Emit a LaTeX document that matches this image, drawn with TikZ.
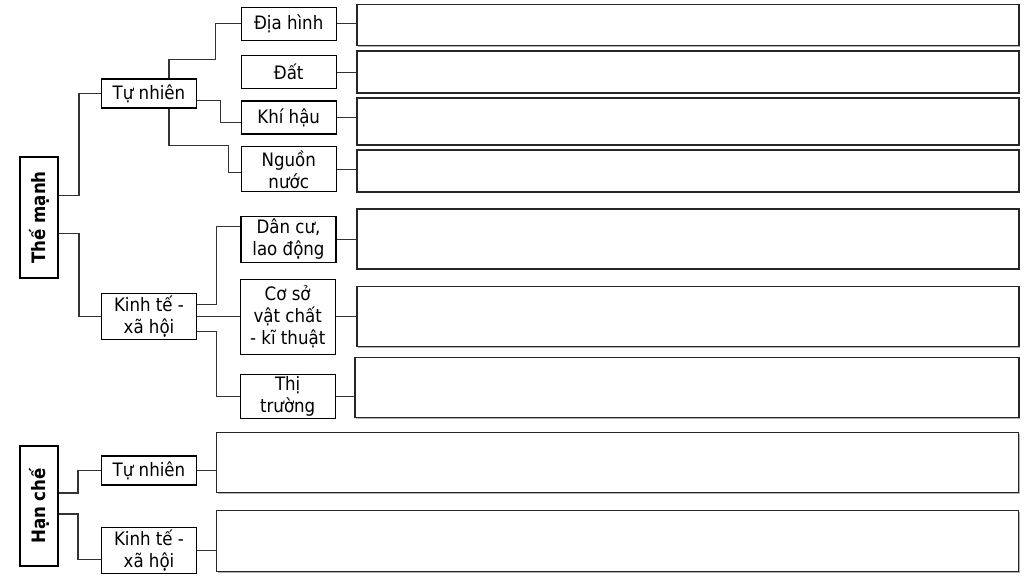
\documentclass[tikz,border=0pt]{standalone}
\usepackage{fontspec}
\setmainfont{DejaVu Sans Condensed}
\usepackage{graphicx}
\usepackage{tikz}
\usetikzlibrary{positioning, shadows}
\tikzstyle{mainbox} = [rectangle, draw=black, line width=1.8pt, inner sep=0pt, minimum width=38pt, font={\fontsize{18.5pt}{20pt}\selectfont\bfseries}]
\tikzstyle{subbox} = [rectangle, draw=black, line width=1.1pt, inner sep=0pt, minimum width=95pt, align=center]
\tikzstyle{leafbox} = [rectangle, draw=black, line width=1.1pt, inner sep=0pt, minimum width=95pt, align=center]
\tikzstyle{answerbox} = [rectangle, draw=black!85, line width=1.3pt, inner sep=0pt, drop shadow={shadow xshift=1.3pt, shadow yshift=-1.3pt, fill=black!30, opacity=1}, fill=white]
\tikzstyle{link} = [draw=black!80, line width=1.2pt]
\tikzset{
  font={\fontsize{18.5pt}{22pt}\selectfont}}

\begin{document}
\begin{tikzpicture}[x=1pt, y=-1pt]
    \useasboundingbox (0,0) rectangle (1032,580);

    \node (theman) [mainbox, minimum height=121pt] at (39,217.5) {\rotatebox{90}{Thế mạnh}};
    \node (hanche) [mainbox, minimum height=120pt] at (39,506) {\rotatebox{90}{Hạn chế}};

    \node (tn1) [subbox, minimum height=29pt] at (149,93.5) {Tự nhiên};
    \node (kt1) [subbox, minimum height=46pt] at (149,316.3) {Kinh tế -\\xã hội};
    \node (tn2) [subbox, minimum height=29pt] at (149,470.5) {Tự nhiên};
    \node (kt2) [subbox, minimum height=46pt] at (149,550.8) {Kinh tế -\\xã hội};

    \node (diahinh) [leafbox, minimum height=33pt] at (288.7,23.7) {Địa hình};
    \node (dat) [leafbox, minimum height=33pt] at (288.7,72.3) {Đất};
    \node (khihau) [leafbox, minimum height=33pt] at (288.7,117.5) {Khí hậu};
    \node (nguonnuoc) [leafbox, minimum height=45pt] at (288.7,169.3) {Nguồn\\nước};
    \node (dancu) [leafbox, minimum height=46pt] at (288.5,239.5) {Dân cư,\\lao động};
    \node (coso) [leafbox, minimum height=75pt] at (287.7,316.8) {Cơ sở\\vật chất\\- kĩ thuật};
    \node (thitruong) [leafbox, minimum height=44pt] at (287.7,396.2) {Thị\\trường};

    \node (a1) [answerbox, minimum width=662pt, minimum height=41pt] at (688,25.3) {};
    \node (a2) [answerbox, minimum width=662pt, minimum height=42pt] at (688,72) {};
    \node (a3) [answerbox, minimum width=662pt, minimum height=47pt] at (688,121.5) {};
    \node (a4) [answerbox, minimum width=662pt, minimum height=42pt] at (688,171) {};
    \node (a5) [answerbox, minimum width=662pt, minimum height=60pt] at (688,239) {};
    \node (a6) [answerbox, minimum width=662pt, minimum height=60pt] at (688,316.7) {};
    \node (a7) [answerbox, minimum width=664pt, minimum height=60pt] at (687,387.3) {};
    \node (a8) [answerbox, minimum width=802pt, minimum height=60pt] at (617.8,462.7) {};
    \node (a9) [answerbox, minimum width=802pt, minimum height=61pt] at (617.8,541.2) {};

    % left tree
    \draw [link] ([yshift=22pt]theman.east) -| ([xshift=-22pt]tn1.west) -- (tn1.west);
    \draw [link] ([yshift=-16pt]theman.east) -| ([xshift=-22pt]kt1.west) -- (kt1.west);
    \draw [link] ([yshift=13pt]hanche.east) -| ([xshift=-23pt]tn2.west) -- (tn2.west);
    \draw [link] ([yshift=-8pt]hanche.east) -| ([xshift=-23pt,yshift=-8.5pt]kt2.west) -- ([yshift=-8.5pt]kt2.west);

    \draw [link] ([xshift=20pt]tn1.north) -- ++(0,-19) -| ([xshift=-25pt]diahinh.west) -- (diahinh.west);
    \draw [link] ([yshift=-7pt]tn1.east) -| ([xshift=-20pt,yshift=-5pt]khihau.west) -- ([yshift=-5pt]khihau.west);
    \draw [link] ([xshift=20pt]tn1.south) -- ++(0,37) -| ([xshift=-12pt,yshift=-3pt]nguonnuoc.west) -- ([yshift=-3pt]nguonnuoc.west);

    \draw [link] ([yshift=12pt]kt1.east) -| ([xshift=-24pt,yshift=13pt]dancu.west) -- ([yshift=13pt]dancu.west);
    \draw [link] (kt1.east) -- (kt1.east -| coso.west);
    \draw [link] ([yshift=-15pt]kt1.east) -| ([xshift=-23pt]thitruong.west) -- (thitruong.west);

    % to the answer boxes
    \draw [link] (diahinh.east) -- (diahinh.east -| a1.west);
    \draw [link] (dat.east) -- (dat.east -| a2.west);
    \draw [link] (khihau.east) -- (khihau.east -| a3.west);
    \draw [link] (nguonnuoc.east) -- (nguonnuoc.east -| a4.west);
    \draw [link] (dancu.east) -- (dancu.east -| a5.west);
    \draw [link] (coso.east) -- (coso.east -| a6.west);
    \draw [link] (thitruong.east) -- (thitruong.east -| a7.west);
    \draw [link] (tn2.east) -- (tn2.east -| a8.west);
    \draw [link] (kt2.east) -- (kt2.east -| a9.west);
\end{tikzpicture}
\end{document}
